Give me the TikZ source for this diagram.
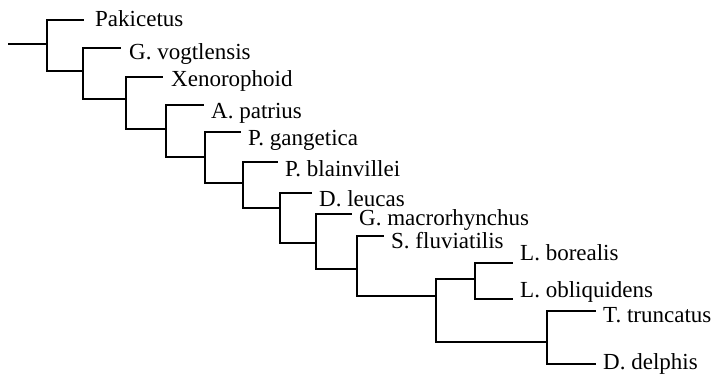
\documentclass[tikz,border=0pt]{standalone}
\usepackage{fontspec}
\setmainfont{Liberation Serif}
\begin{document}
\begin{tikzpicture}[x=1pt,y=-1pt,
  branch/.style={line width=2pt,line cap=rect},
  taxon/.style={anchor=base west,inner sep=0pt,font=\fontsize{23}{23}\selectfont}]
\useasboundingbox (0,0) rectangle (715,374);

% internal nodes (x of the fork, y where the parent branch joins it)
\coordinate (root) at (9,44);
\coordinate (v1)  at (47,44);
\coordinate (v2)  at (83,71);
\coordinate (v3)  at (126,99);
\coordinate (v4)  at (166,129);
\coordinate (v5)  at (205,157);
\coordinate (v6)  at (243,183);
\coordinate (v7)  at (280,208);
\coordinate (v8)  at (316,243);
\coordinate (v9)  at (357,269);
\coordinate (v10) at (436,296);
\coordinate (v11) at (475,279);
\coordinate (v12) at (547,342);

% branch tips
\coordinate (t1)  at (83,20);
\coordinate (t2)  at (120,48);
\coordinate (t3)  at (162,77);
\coordinate (t4)  at (203,105);
\coordinate (t5)  at (240,132);
\coordinate (t6)  at (277,162);
\coordinate (t7)  at (311,193);
\coordinate (t8)  at (351,214);
\coordinate (t9)  at (383,236);
\coordinate (t10) at (512,263);
\coordinate (t11) at (512,299);
\coordinate (t12) at (595,311);
\coordinate (t13) at (595,364);

% taxon labels
\node[taxon] (pak) at ([shift={(12,7)}]t1)  {Pakicetus};
\node[taxon] (gvo) at ([shift={(9,12)}]t2)  {G. vogtlensis};
\node[taxon] (xen) at ([shift={(9,10)}]t3)  {Xenorophoid};
\node[taxon] (apa) at ([shift={(8,14)}]t4)  {A. patrius};
\node[taxon] (pga) at ([shift={(8,14)}]t5)  {P. gangetica};
\node[taxon] (pbl) at ([shift={(8,15)}]t6)  {P. blainvillei};
\node[taxon] (dle) at ([shift={(8,14)}]t7)  {D. leucas};
\node[taxon] (gma) at ([shift={(8,12)}]t8)  {G. macrorhynchus};
\node[taxon] (sfl) at ([shift={(8,12)}]t9)  {S. fluviatilis};
\node[taxon] (lbo) at ([shift={(8,-2)}]t10) {L. borealis};
\node[taxon] (lob) at ([shift={(8,-1)}]t11) {L. obliquidens};
\node[taxon] (ttr) at ([shift={(8,11)}]t12) {T. truncatus};
\node[taxon] (dde) at ([shift={(8,5)}]t13)  {D. delphis};

% branches
\draw[branch] (root) -- (v1);
\draw[branch] (t1) -| (v1) |- (v2);
\draw[branch] (t2) -| (v2) |- (v3);
\draw[branch] (t3) -| (v3) |- (v4);
\draw[branch] (t4) -| (v4) |- (v5);
\draw[branch] (t5) -| (v5) |- (v6);
\draw[branch] (t6) -| (v6) |- (v7);
\draw[branch] (t7) -| (v7) |- (v8);
\draw[branch] (t8) -| (v8) |- (v9);
\draw[branch] (t9) -| (v9) |- (v10);
\draw[branch] (v11) -| (v10) |- (v12);
\draw[branch] (t10) -| (v11) |- (t11);
\draw[branch] (t12) -| (v12) |- (t13);
\end{tikzpicture}
\end{document}
